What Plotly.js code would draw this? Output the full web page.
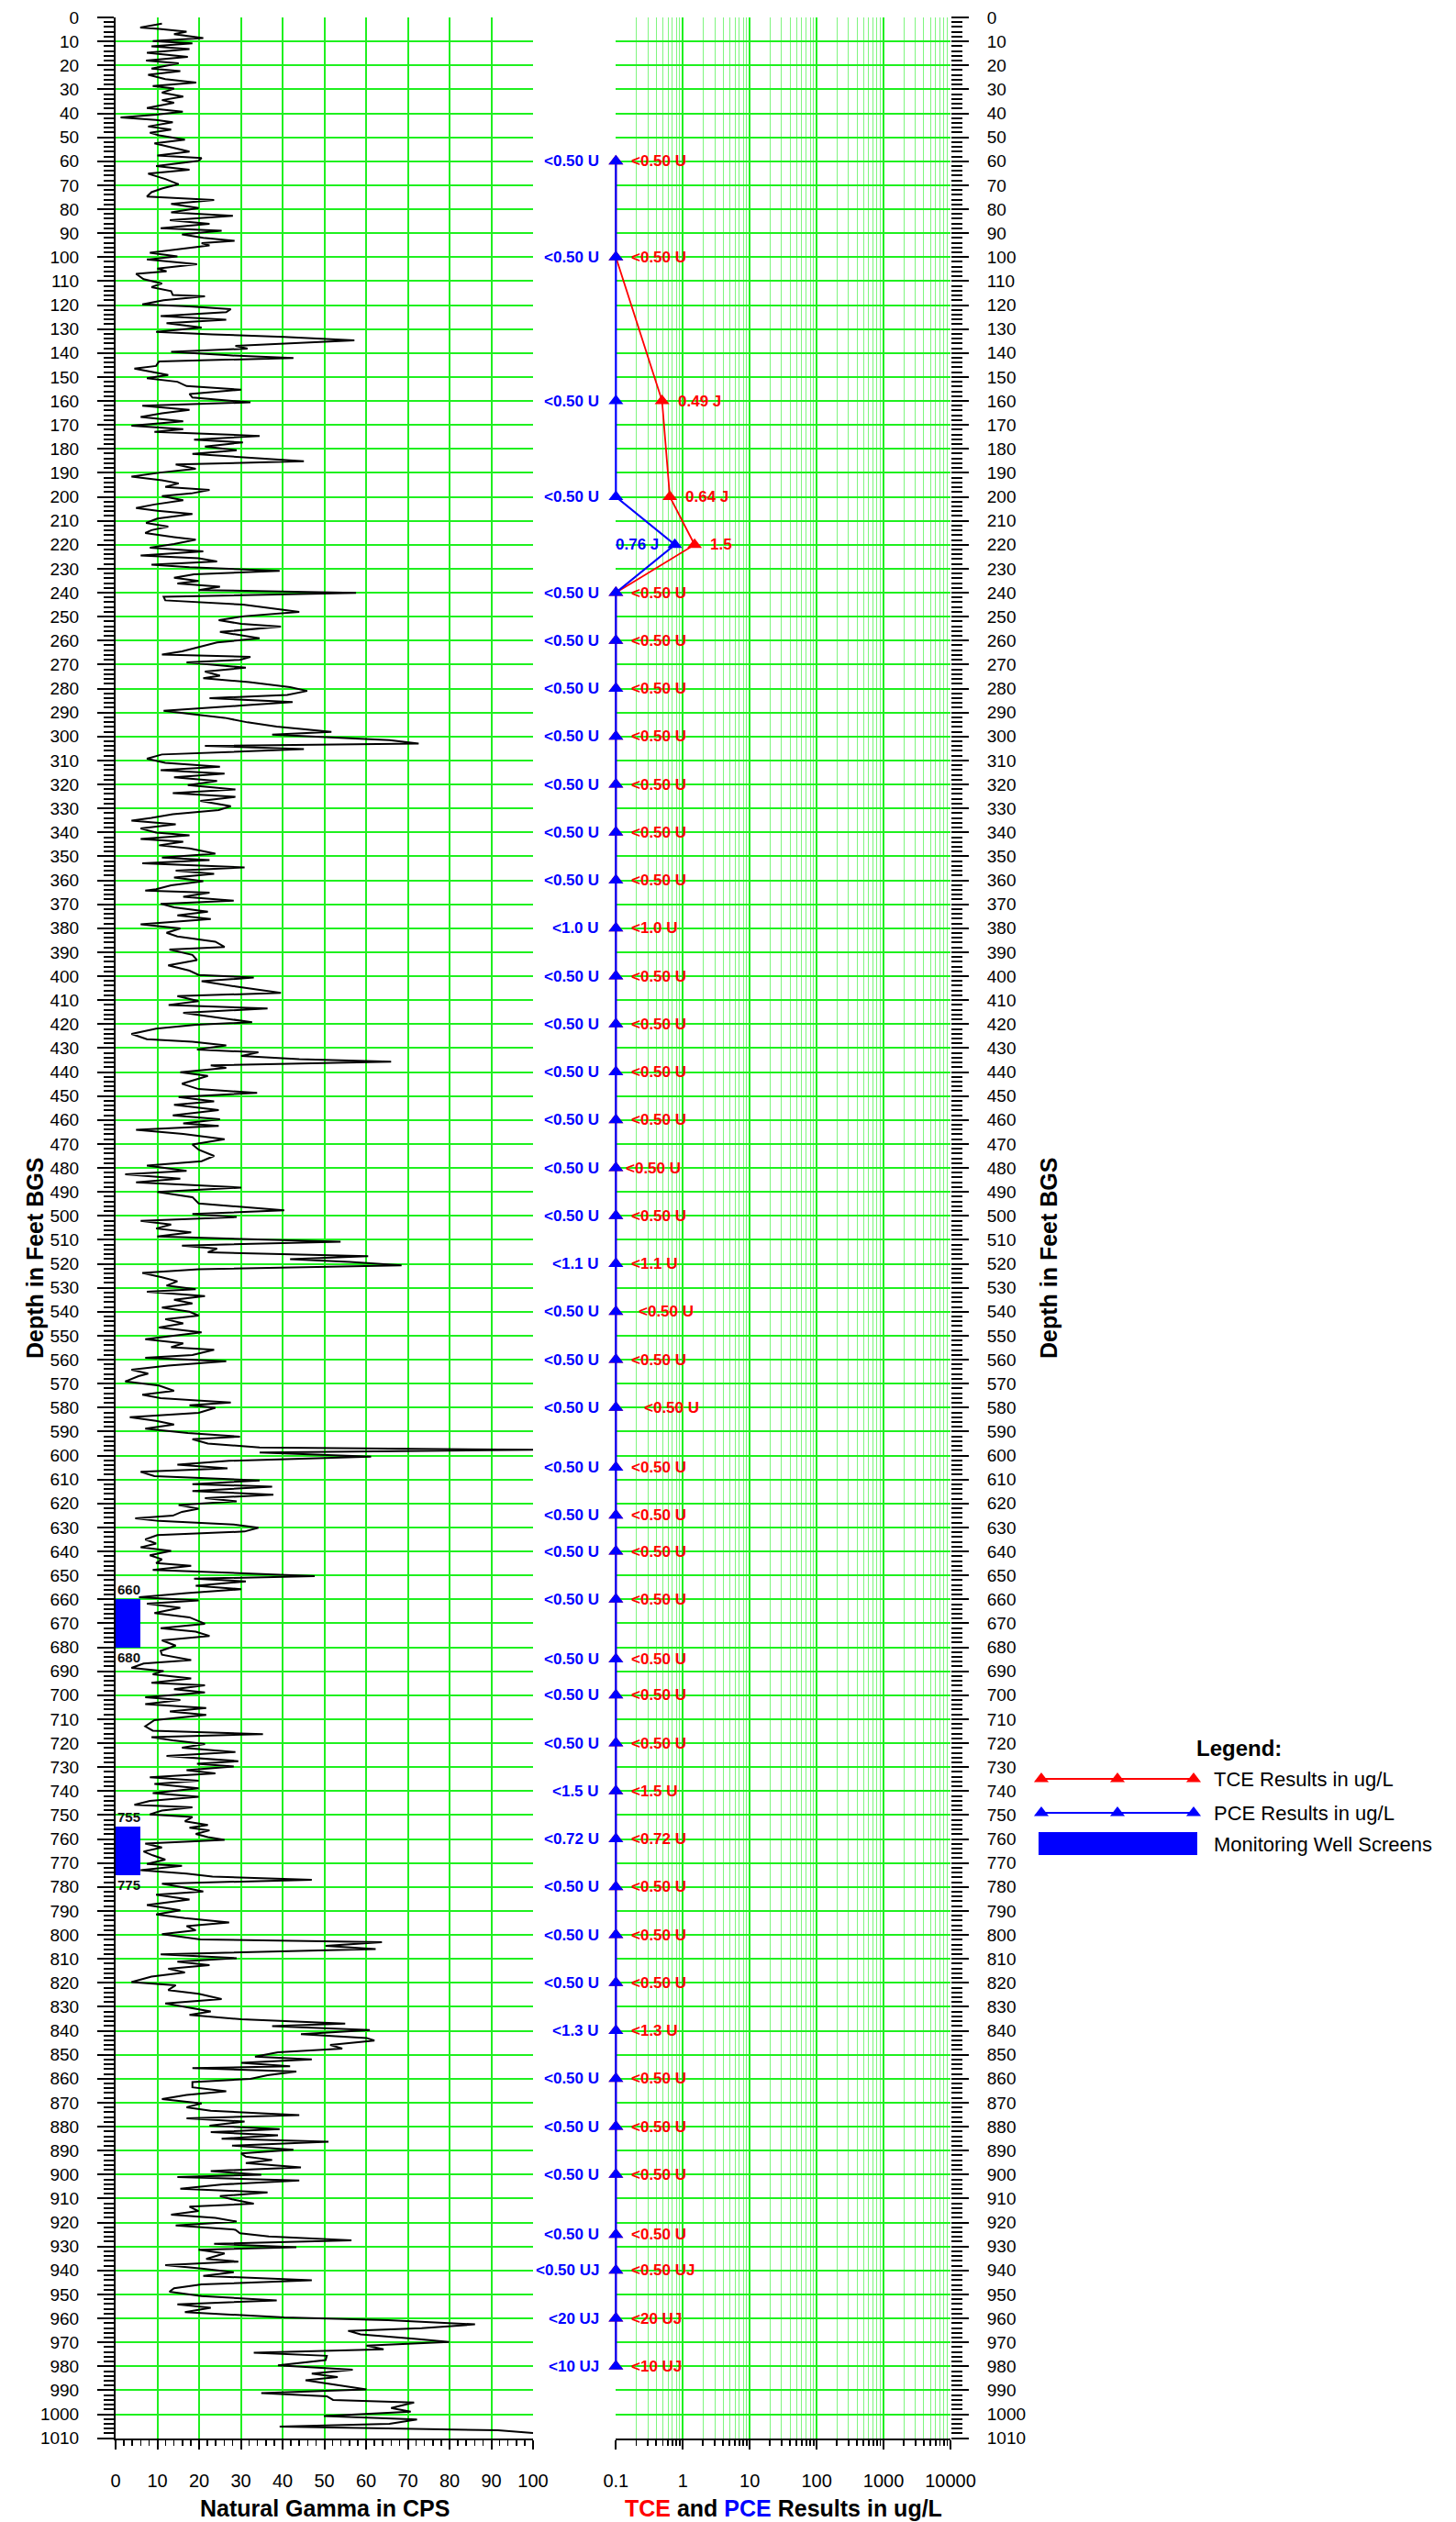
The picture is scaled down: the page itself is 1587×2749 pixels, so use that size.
<!DOCTYPE html>
<html><head><meta charset="utf-8">
<script src="https://cdn.plot.ly/plotly-3.0.1.min.js"></script>
<style>html,body{margin:0;padding:0;background:#fff}#chart{width:1587px;height:2749px}</style>
</head><body><div id="chart"></div>
<script>
// ---------------- DATA ----------------
const gammaDepth = [2.6,4.2,4.8,5.9,7.0,8.6,9.9,10.8,12.1,13.2,14.7,16.5,18,19.1,21.3,22.4,23.9,25.7,27.2,28.6,29.7,31.4,33,34.5,35.6,37.8,39.3,40.6,41.7,42.8,43.7,45.5,46.8,48.1,49.2,51,52.5,54.3,56,57.6,58.7,59.8,62,63.5,65.2,67.4,69.6,71.4,72.9,74.7,76.2,77.8,79.5,81.3,82.8,84.6,86.1,87.9,89,90.5,92,93.2,94.2,95.1,96.4,98.2,99.7,101,103,104.8,105.9,107,109.2,111,112.5,114.2,115.8,116.4,118,119.7,120.6,121.7,123,124.6,126.1,127.6,129.4,131.2,132.2,133.3,134.7,135.5,137,138.2,139.5,141,142.1,143.5,145.4,146.5,147.7,149.2,150.5,152,153.8,155.3,157.1,158.6,160.6,162,163.7,165.2,166.7,168.5,170.3,171.8,172.9,174.6,176.2,177.3,179,180.6,182.1,183.4,185.2,186.5,188.3,189.8,191.6,193.1,194.4,195.9,197.1,198.6,199.7,201.4,203.2,204.7,205.8,207.2,209.1,210.9,212.4,213.9,215.1,216.8,217.9,219.7,221.2,222.8,224.5,225.6,227,228.3,229.4,230.9,232.3,233.8,235.1,236.2,237.5,238.9,240.1,241.7,243.2,245,248,249.8,251.5,253,254.2,256.4,259,260.8,262.5,264.5,265.8,266.8,268,269.1,271.3,272.9,274.6,275.7,277.3,279.4,281,282.7,284,285.6,287.1,289.3,291,292.2,294.1,295.9,298.1,299.2,301.5,303,303.9,305.3,307.5,309.3,311,312.6,314.1,315.5,317,318.6,320.3,322.1,323.6,325.2,326.9,329.1,330.7,332.4,334,335.1,336.6,338.4,340.1,341.2,342.8,343.9,345.4,346.7,348.9,350.5,351.6,352.9,354.6,356,357.3,358.8,360.4,362.1,363.7,364.3,365.2,366.9,368.5,369.8,371.3,373.1,374.6,376.2,378.4,380.1,381.9,383.4,385.6,387.8,388.9,391.1,393.3,395.5,397.7,399.5,400.6,402.1,404.3,407,408.3,410.4,412,413.5,415.3,417,419.2,420.3,421.9,424.1,426.3,427.4,428.9,430.6,431.8,433.3,434.6,435.7,437.2,438.3,440.1,441.6,443.4,444.9,447.1,448.7,450.4,452.2,453.7,455.9,458.1,459.7,461.4,462.5,464.1,465.8,468,470.2,472.4,475,477.2,479,481.2,482.7,484.5,486,488.2,490,492.2,494.8,497.7,499.2,500.5,502.1,503.6,505.3,506.9,508.6,510.8,512.4,513.7,515.2,516.8,518.1,519.2,520.7,522.3,523.8,525.6,527.3,529.1,530.6,531.7,533.5,535,536.5,538.3,540,541.6,543.1,544.9,546.6,548.6,551.5,553.2,554.8,555.9,558.1,559.2,560.7,562.5,564.2,565.8,566.9,569.1,570.8,573,574.6,576.1,577.9,579,580.1,582.2,584,585.5,587.1,588.8,590.6,592.1,593.2,595,596.6,597.6,598.7,600.5,602.2,603.8,605.3,606.8,608.6,610.4,611.9,613,614.8,616.3,617.8,619.1,620.7,622.2,623.5,625.1,626.2,627.3,628.8,630.1,631.7,633.2,635,636.7,638.3,639.8,641.6,643.3,644.9,646,647.7,650.3,651.4,652.5,654.3,655.8,657.4,659.1,660.5,661.8,663.5,665.7,667.5,670.2,672,673.5,675.3,677.1,679.3,681.5,683.1,685.3,686.8,688.6,689.9,691.3,693,694.8,695.9,697.5,698.8,700.8,702,703.7,705.3,706.8,708.2,710.4,713,714.8,716.2,717.5,718.8,720.4,721.9,723.7,725.3,727.5,728.6,729.7,731.3,732.6,734.2,735.7,737,738.8,740.8,742.4,744.1,745.7,746.8,748.1,749.7,750.8,752.6,754.1,755.3,756.4,757.9,759.2,760.4,761.9,763.5,765.2,766.8,768.6,770.4,771.2,773,774.4,775.7,777,778.6,780.1,781.9,783.2,785.2,787.5,789.7,791.5,793,794.8,796.3,798.1,799.7,801.9,803,804.6,805.9,808.1,809.7,811.2,812.6,814.1,815.7,817.4,819.7,821,823,824.6,825.9,826.8,828.6,830.3,831.9,833.4,835.2,837,838.1,839.7,841.4,843,844.1,845.9,847.4,849,850.8,851.9,853.4,854.8,855.6,857,858.5,860.1,861.4,863.6,865.2,866.8,868.5,870.3,871.9,873.4,875.2,876.5,877.9,879.6,881,882.3,883.6,885,886.3,887.9,889.6,891.2,892.5,893.9,895.2,897,898.5,900.1,901,902.5,904.1,905.9,907.4,909,910.3,912.1,913.4,915.2,916.7,918.1,919.6,921.2,923,924.5,925.8,927.4,928.9,930.3,931.4,932.9,935.2,936.3,937.8,939.2,940.7,942.3,944.1,945.8,947.4,948.9,950.7,952.5,954.1,955.6,957.4,959.6,960.7,962.5,964.1,965.2,966.7,968.5,969.8,971.4,972.9,974.3,975.6,977.4,979.6,981.4,983,984.5,985.8,987.4,989.6,991.2,992.5,994,995.1,997.4,998.9,1000.7,1002.2,1004,1005.1,1006.7,1007.8];
const gammaCPS = [11.1,5.9,10.4,17,14,21,8.9,18.4,8.6,17.7,7.5,17.3,7.3,15.1,8.6,15.5,7.8,11.9,19.3,8.9,14,11.1,16.2,11.1,14,7.5,16.1,9.7,1.2,9.7,13.7,7.8,13.3,8.2,10.4,16.6,9.3,14,17.7,10,20.6,19.9,9.7,17.7,7.8,11.9,15.1,11.1,8.6,7.5,23.6,13.3,19.9,13.3,28.1,13,22.5,10.8,25.4,15.9,21,28.5,20.6,22.5,15.9,8.2,14.8,7.5,19.5,10,12.2,4.9,6.7,11.1,8.6,13.3,13.7,21.4,11.5,6.4,17.7,27.6,26.5,10.8,26.5,12.2,20.6,9.7,23.2,40.4,57.2,47.7,28.7,31.6,13.3,27.2,42.6,10.4,9.7,4.5,8.2,12.6,7.5,14.8,17,30.1,17.7,18.4,32.3,6.4,17.7,11.1,6,16.2,3.8,16.2,9.3,34.5,18.8,30.5,21.4,29,18.4,30.1,45.1,14.4,19.2,11.1,3.8,11.1,15.1,11.9,22.5,18.1,11.1,16.2,9.3,4.9,10,18.4,10,7.3,12.6,8.6,7.1,14,19.2,14,8.2,21,6,19.9,24.3,8.6,17.7,39.3,18.8,14,19.9,14.8,25,19.9,57.6,11.5,11.9,30.5,44,30.9,24.7,30.1,39.6,25,34.5,24.3,20.6,15.9,11.1,32.3,29.8,17,31.2,21.4,25,21,32,41.8,45.9,41.1,22.5,42.4,30.1,11.5,19.9,26.1,31.6,38.6,51.7,37.5,65.6,72.6,21.4,45.1,11.1,7.5,11.9,25,10.8,26.1,14,24.3,17.3,28.7,13.7,28.7,20.3,27.6,24.7,13.7,8.6,3.8,14.4,6,9.7,17.7,6,16.2,10.4,17.7,23.9,11.1,22.5,6.4,30.9,14.4,23.6,14,21,13.3,9.7,7.1,22.5,16.2,28.3,10.8,14,22.1,14.8,22.8,6,15.5,12.2,14.8,23.9,26.1,12.9,18.4,19.5,12.6,17.7,19.9,33.1,20.6,28.7,39.6,14.8,19.9,12.7,36.4,16.2,23.6,32.7,19.2,9.7,3.8,7.5,18.4,26.5,19.5,34.2,30.1,44,66,22.8,26.5,15.5,22.1,18.4,15.9,19.9,33.9,15.1,23.6,14,24.7,13.7,25,16.2,24.7,4.9,16.2,26.1,18.4,19.9,23.6,20.6,7.5,17,2.3,15.5,4.9,30.1,10,18.4,19.9,40.4,18.4,29,6,13.3,9.7,18.1,10,53.9,15.9,24.3,22.1,60.5,41.8,56.1,68.5,19.9,6.4,11.1,14.8,12.2,19.2,7.5,21.4,14,18.4,11.1,17.7,19.9,11.9,16.2,10.4,20.6,7.1,16.2,13.3,23.6,18.4,7.1,26.5,12.6,3.8,7.8,5.5,2.3,10.4,14,6.4,10.8,27.6,17.7,23.9,19.9,3.4,9.7,14,7.1,17.3,29.8,18.4,22.1,34.5,100,34.5,61.2,27.2,14.8,26.8,6,9.3,34.5,18.4,37.5,18.4,37.8,21.4,29,15.1,19.9,15.9,13.7,4.7,10.4,28.3,34.2,30.9,10,7.1,9.7,6,13.3,8.2,11.1,9.7,18.1,8.9,47.7,18.8,31.2,19.2,30.1,17,5.6,19.9,7.5,15.5,9.3,17.7,21.4,10.8,19.2,22.5,11.1,14.4,10.8,11.1,18.1,6.7,3.8,11.5,8.9,18.1,8.6,21.4,14,21.4,7.1,15.5,7.1,21.7,13,21.7,9.3,7.1,8.9,35.3,8.6,13.7,21.4,15.9,28.7,12.2,29.4,19.5,28.3,17,23.9,8.2,19.9,9.3,19.9,8.9,19.9,8.2,4.5,18.4,11.1,8.2,18.4,16.6,22.1,17.7,22.5,19.2,22.1,26.1,7.1,11.1,6.7,8.9,11.9,7.5,15.9,6,17,23.2,47,11.1,15.9,21,9.7,17.7,7.5,15.5,9.7,16.6,27.2,17,19.2,11.1,20.3,63.8,50.3,62.3,10.8,29,14.8,22.5,12.6,16.6,8.6,3.8,14.4,12.6,19.9,22.8,25.4,11.9,17.7,22.8,17.7,30.1,55,37.5,60.9,44.4,60.1,62,51.4,54.3,38.9,33.4,47,30.1,41.8,18.4,43.3,36.4,32.3,18.4,18.4,26.5,17,11.1,20.6,17,22.8,44,17,30.9,22.5,39.3,22.8,38.9,25.4,51,27.9,42.6,30.1,31.2,37.5,31.2,44.4,22.8,34.9,14.8,44,25.7,15.5,36.4,25,27.9,33.1,17.7,19.9,13.3,23.9,29,14.4,28.7,29.8,36.7,56.5,23.6,43.3,19.9,26.1,21.7,29.4,11.9,20.6,28.3,21,47,20.6,14,12.9,20.6,38.6,14.8,22.8,16.6,40.4,65.3,86.1,73.3,55.7,58.7,71.5,79.9,60.1,64.2,33.1,50.6,50.3,38.9,56.8,47,53.2,45.5,51.7,60.1,34.9,50.6,52.1,71.5,66,70.7,49.9,72.2,65.6,39.3,91.6,100];

const sampleDepth = [60,100,160,200,220,240,260,280,300,320,340,360,380,400,420,440,460,480,500,520,540,560,580,605,625,640,660,685,700,720,740,760,780,800,820,840,860,880,900,925,940,960,980];
// non-detects are plotted at the axis minimum (0.1 ug/L)
const tceValue = [0.1,0.1,0.49,0.64,1.5,0.1,0.1,0.1,0.1,0.1,0.1,0.1,0.1,0.1,0.1,0.1,0.1,0.1,0.1,0.1,0.1,0.1,0.1,0.1,0.1,0.1,0.1,0.1,0.1,0.1,0.1,0.1,0.1,0.1,0.1,0.1,0.1,0.1,0.1,0.1,0.1,0.1,0.1];
const pceValue = [0.1,0.1,0.1,0.1,0.76,0.1,0.1,0.1,0.1,0.1,0.1,0.1,0.1,0.1,0.1,0.1,0.1,0.1,0.1,0.1,0.1,0.1,0.1,0.1,0.1,0.1,0.1,0.1,0.1,0.1,0.1,0.1,0.1,0.1,0.1,0.1,0.1,0.1,0.1,0.1,0.1,0.1,0.1];
const tceLabel = ["<0.50 U","<0.50 U","0.49 J","0.64 J","1.5","<0.50 U","<0.50 U","<0.50 U","<0.50 U","<0.50 U","<0.50 U","<0.50 U","<1.0 U","<0.50 U","<0.50 U","<0.50 U","<0.50 U","<0.50 U","<0.50 U","<1.1 U","<0.50 U","<0.50 U","<0.50 U","<0.50 U","<0.50 U","<0.50 U","<0.50 U","<0.50 U","<0.50 U","<0.50 U","<1.5 U","<0.72 U","<0.50 U","<0.50 U","<0.50 U","<1.3 U","<0.50 U","<0.50 U","<0.50 U","<0.50 U","<0.50 UJ","<20 UJ","<10 UJ"];
const pceLabel = ["<0.50 U","<0.50 U","<0.50 U","<0.50 U","0.76 J","<0.50 U","<0.50 U","<0.50 U","<0.50 U","<0.50 U","<0.50 U","<0.50 U","<1.0 U","<0.50 U","<0.50 U","<0.50 U","<0.50 U","<0.50 U","<0.50 U","<1.1 U","<0.50 U","<0.50 U","<0.50 U","<0.50 U","<0.50 U","<0.50 U","<0.50 U","<0.50 U","<0.50 U","<0.50 U","<1.5 U","<0.72 U","<0.50 U","<0.50 U","<0.50 U","<1.3 U","<0.50 U","<0.50 U","<0.50 U","<0.50 U","<0.50 UJ","<20 UJ","<10 UJ"];

const screenTop = [660, 755];
const screenBottom = [680, 775];

const concTickVals = [0.1, 1, 10, 100, 1000, 10000];
const concTickText = ["0.1", "1", "10", "100", "1000", "10000"];
const legendNames = ["TCE Results in ug/L", "PCE Results in ug/L", "Monitoring Well Screens"];

// ---------------- STYLE ----------------
const W = 1587, H = 2749;
const px = v => v / W, py = v => 1 - v / H;
const FONT = "Liberation Sans, Arial, Helvetica, sans-serif";
const GREEN = "#1ff01f", GREEN_MINOR = "#7ff57f";
const RED = "#ff0000", BLUE = "#0000ff";
const SCREEN_CPS = 6;          // drawn width of the well-screen bars
const tceShift = {480: -6, 540: 8, 580: 14};

const plotTop = 19, plotBottom = 2657.7;
const yDom = [py(plotBottom), py(plotTop)];
const concLeft = 671.3, concRight = 1036, pad = 12;
const pxPerDecade = (concRight - concLeft) / 5;

const traces = [
  {type: "scatter", mode: "lines", x: gammaCPS, y: gammaDepth, xaxis: "x", yaxis: "y",
   line: {color: "#000", width: 2}, hoverinfo: "skip", showlegend: false},
  {type: "bar", orientation: "h", xaxis: "x", yaxis: "y",
   y: screenTop.map((t, i) => (t + screenBottom[i]) / 2),
   width: screenTop.map((t, i) => screenBottom[i] - t),
   x: screenTop.map(() => SCREEN_CPS), base: 0,
   marker: {color: BLUE, line: {width: 0}}, showlegend: false, hoverinfo: "skip"},
  // concentration traces on an unclipped twin of the x2/y2 scale (same pixel mapping, wider clip box)
  {type: "scatter", mode: "lines+markers", x: tceValue, y: sampleDepth, xaxis: "x4", yaxis: "y4",
   line: {color: RED, width: 1.8}, marker: {symbol: "triangle-up", size: 14, color: RED},
   cliponaxis: false, showlegend: false},
  {type: "scatter", mode: "lines+markers", x: pceValue, y: sampleDepth, xaxis: "x4", yaxis: "y4",
   line: {color: BLUE, width: 2.2}, marker: {symbol: "triangle-up", size: 14, color: BLUE},
   cliponaxis: false, showlegend: false},
  // legend samples (hidden axes in pixel units)
  {type: "scatter", mode: "lines+markers", x: [1135, 1218, 1301], y: [1939, 1939, 1939], xaxis: "x3", yaxis: "y3",
   line: {color: RED, width: 2}, marker: {symbol: "triangle-up", size: 14, color: RED}, cliponaxis: false, showlegend: false, hoverinfo: "skip"},
  {type: "scatter", mode: "lines+markers", x: [1135, 1218, 1301], y: [1976, 1976, 1976], xaxis: "x3", yaxis: "y3",
   line: {color: BLUE, width: 2}, marker: {symbol: "triangle-up", size: 14, color: BLUE}, cliponaxis: false, showlegend: false, hoverinfo: "skip"}
];

const tickFontY = {family: FONT, size: 19, color: "#000"};
const tickFontX = {family: FONT, size: 20, color: "#000"};

const layout = {
  width: W, height: H, margin: {l: 0, r: 0, t: 0, b: 0},
  paper_bgcolor: "#fff", plot_bgcolor: "rgba(0,0,0,0)",
  showlegend: false, bargap: 0,
  font: {family: FONT},
  xaxis: {domain: [px(126), px(581)], range: [0, 100], anchor: "y", tickmode: "linear", tick0: 0, dtick: 10,
    showgrid: true, gridcolor: GREEN, gridwidth: 2, zeroline: false,
    showline: true, linecolor: "#000", linewidth: 2,
    ticks: "outside", ticklen: 10, tickwidth: 2, tickcolor: "#000",
    minor: {dtick: 2, ticks: "outside", ticklen: 6, tickwidth: 1.5, tickcolor: "#000", showgrid: false},
    tickfont: tickFontX, ticklabelstandoff: 17, automargin: false, fixedrange: true},
  yaxis: {domain: yDom, range: [1010, 0], anchor: "x", tickmode: "linear", tick0: 0, dtick: 10,
    showgrid: true, gridcolor: GREEN, gridwidth: 2, zeroline: false,
    showline: true, linecolor: "#000", linewidth: 2,
    ticks: "outside", ticklen: 18, tickwidth: 2, tickcolor: "#000",
    minor: {dtick: 2, ticks: "outside", ticklen: 11, tickwidth: 2, tickcolor: "#000", showgrid: false},
    tickfont: tickFontY, ticklabelstandoff: 16, automargin: false, fixedrange: true},
  xaxis2: {domain: [px(concLeft), px(concRight)], type: "log", range: [-1, 4], anchor: "y2",
    tickmode: "array", tickvals: concTickVals, ticktext: concTickText,
    showgrid: true, gridcolor: GREEN, gridwidth: 2, zeroline: false,
    showline: true, linecolor: "#000", linewidth: 2,
    ticks: "outside", ticklen: 10, tickwidth: 2, tickcolor: "#000",
    minor: {dtick: "D1", ticks: "outside", ticklen: 6, tickwidth: 1.5, tickcolor: "#000",
            showgrid: true, gridcolor: GREEN_MINOR, gridwidth: 1},
    tickfont: tickFontX, ticklabelstandoff: 17, automargin: false, fixedrange: true},
  yaxis2: {domain: yDom, range: [1010, 0], anchor: "x2", side: "right", tickmode: "linear", tick0: 0, dtick: 10,
    showgrid: true, gridcolor: GREEN, gridwidth: 2, zeroline: false, showline: false,
    ticks: "outside", ticklen: 19, tickwidth: 2, tickcolor: "#000",
    minor: {dtick: 2, ticks: "outside", ticklen: 12, tickwidth: 2, tickcolor: "#000", showgrid: false},
    tickfont: tickFontY, ticklabelstandoff: 16, automargin: false, fixedrange: true},
  xaxis4: {domain: [px(concLeft - pad), px(concRight)], type: "log", range: [-1 - pad / pxPerDecade, 4],
    anchor: "y4", visible: false, fixedrange: true},
  yaxis4: {domain: yDom, range: [1010, 0], anchor: "x4", visible: false, fixedrange: true},
  xaxis3: {domain: [px(1100), px(1340)], range: [1100, 1340], anchor: "y3", visible: false, fixedrange: true},
  yaxis3: {domain: [py(2040), py(1880)], range: [2040, 1880], anchor: "x3", visible: false, fixedrange: true},
  shapes: [
    {type: "rect", xref: "x3", yref: "y3", x0: 1132, x1: 1305, y0: 1997, y1: 2022, fillcolor: BLUE, line: {width: 0}}
  ],
  annotations: []
};

const ann = layout.annotations;
// sample labels
sampleDepth.forEach((d, i) => {
  ann.push({xref: "x2", yref: "y2", x: Math.log10(pceValue[i]), y: d, text: pceLabel[i],
    xanchor: "right", yanchor: "middle", xshift: -16, showarrow: false,
    font: {family: FONT, size: 17, color: BLUE, weight: "bold"}});
  ann.push({xref: "x2", yref: "y2", x: Math.log10(tceValue[i]), y: d, text: tceLabel[i],
    xanchor: "left", yanchor: "middle", xshift: 15 + (tceShift[d] || 0), showarrow: false,
    font: {family: FONT, size: 17, color: RED, weight: "bold"}});
});
// screen depth labels
screenTop.forEach((t, i) => {
  ann.push({xref: "x", yref: "y", x: 0, y: t, text: String(t), xanchor: "left", yanchor: "bottom",
    showarrow: false, font: {family: FONT, size: 15, color: "#111", weight: "bold"}});
  ann.push({xref: "x", yref: "y", x: 0, y: screenBottom[i], text: String(screenBottom[i]), xanchor: "left", yanchor: "top",
    showarrow: false, font: {family: FONT, size: 15, color: "#111", weight: "bold"}});
});
// axis titles
const titleFont = {family: FONT, size: 25, color: "#000", weight: "bold"};
ann.push({xref: "paper", yref: "paper", x: px(38), y: py(1372), text: "Depth in Feet BGS", textangle: -90,
  xanchor: "center", yanchor: "middle", showarrow: false, font: titleFont});
ann.push({xref: "paper", yref: "paper", x: px(1143), y: py(1372), text: "Depth in Feet BGS", textangle: -90,
  xanchor: "center", yanchor: "middle", showarrow: false, font: titleFont});
ann.push({xref: "paper", yref: "paper", x: px(354), y: py(2734), text: "Natural Gamma in CPS",
  xanchor: "center", yanchor: "middle", showarrow: false, font: titleFont});
ann.push({xref: "paper", yref: "paper", x: px(854), y: py(2734),
  text: '<span style="color:#ff0000">TCE</span> and <span style="color:#0000ff">PCE</span> Results in ug/L',
  xanchor: "center", yanchor: "middle", showarrow: false, font: titleFont});
// legend texts
ann.push({xref: "paper", yref: "paper", x: px(1350), y: py(1905), text: "Legend:", xanchor: "center", yanchor: "middle",
  showarrow: false, font: {family: FONT, size: 24, color: "#000", weight: "bold"}});
[1939, 1976, 2010].forEach((yy, i) => {
  ann.push({xref: "paper", yref: "paper", x: px(1321), y: py(yy), text: legendNames[i], xanchor: "left", yanchor: "middle",
    showarrow: false, font: {family: FONT, size: 22, color: "#000"}});
});

Plotly.newPlot("chart", traces, layout, {staticPlot: true, displayModeBar: false});
</script>
</body></html>
